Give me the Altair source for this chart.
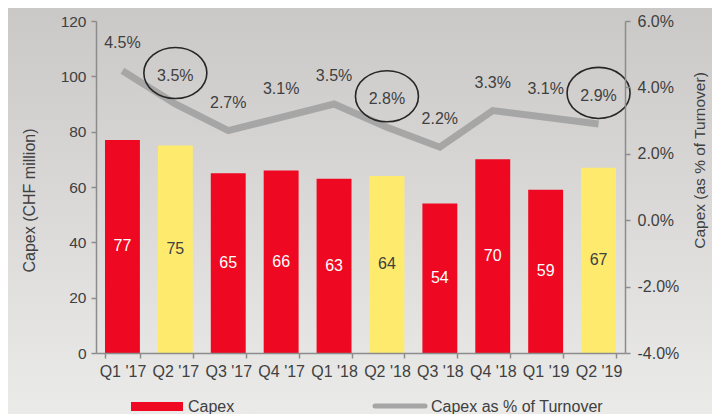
import altair as alt
import pandas as pd

quarters = ["Q1 '17", "Q2 '17", "Q3 '17", "Q4 '17", "Q1 '18",
            "Q2 '18", "Q3 '18", "Q4 '18", "Q1 '19", "Q2 '19"]
capex = [77, 75, 65, 66, 63, 64, 54, 70, 59, 67]
capex_pct = [4.5, 3.5, 2.7, 3.1, 3.5, 2.8, 2.2, 3.3, 3.1, 2.9]
legend_labels = ["Capex", "Capex as % of Turnover"]

RED = "#EE0821"
YELLOW = "#FEEB6E"
LINE_GRAY = "#A6A6A6"
AXIS_GRAY = "#8C8C8C"
TEXT = "#404040"
FONT = "Liberation Sans"

df = pd.DataFrame({"quarter": quarters, "capex": capex, "pct": capex_pct})
df["grp"] = ["q2" if q.startswith("Q2") else "other" for q in quarters]

W, H = 529, 332

x_enc = alt.X("quarter:N", sort=quarters, title=None,
              scale=alt.Scale(paddingInner=0.34, paddingOuter=0.17),
              axis=alt.Axis(labelAngle=0, tickBand="extent", domainColor=AXIS_GRAY,
                            tickColor=AXIS_GRAY, tickSize=5, labelFontSize=16,
                            labelColor=TEXT, labelPadding=5, labelFont=FONT,
                            domainWidth=1.5, tickWidth=1.5, zindex=1))

left_axis = alt.Axis(title="Capex (CHF million)", values=[0, 20, 40, 60, 80, 100, 120],
                     orient="left", grid=False, domainColor=AXIS_GRAY, tickColor=AXIS_GRAY,
                     tickSize=5, labelFontSize=15.5, labelColor=TEXT, labelPadding=5,
                     titleFontSize=16, titleColor=TEXT, titleFontWeight="normal",
                     titleAngle=270, titleAlign="center", titleBaseline="middle",
                     titleX=-67, titleY=179, domainWidth=1.5, tickWidth=1.5,
                     labelFont=FONT, titleFont=FONT, zindex=1)
left_scale = alt.Scale(domain=[0, 120], nice=False)

right_axis = alt.Axis(title="Capex (as % of Turnover)", values=[-4, -2, 0, 2, 4, 6],
                      orient="right", grid=False, domainColor=AXIS_GRAY, tickColor=AXIS_GRAY,
                      tickSize=5, labelFontSize=16, labelColor=TEXT, labelPadding=7,
                      labelExpr="(datum.value < 0 ? '-' : '') + format(abs(datum.value), '.1f') + '%'",
                      titleFontSize=15.5, titleColor=TEXT, titleFontWeight="normal",
                      titleAngle=270, titleAlign="center", titleBaseline="middle",
                      titleX=74, titleY=139, domainWidth=1.5, tickWidth=1.5,
                      labelFont=FONT, titleFont=FONT, zindex=1)
right_scale = alt.Scale(domain=[-4, 6], nice=False)

base = alt.Chart(df)

bg = alt.Chart(alt.Data(values=[{}])).mark_rect(
    color=alt.Gradient(gradient="linear", x1=0, x2=0, y1=0, y2=1,
                       stops=[alt.GradientStop(color="#CAC8C7", offset=0),
                              alt.GradientStop(color="#ECECEB", offset=1)])
).encode(x=alt.value(-100), x2=alt.value(W + 110), y=alt.value(-20), y2=alt.value(H + 80))

bars = base.mark_bar().encode(
    x=x_enc,
    y=alt.Y("capex:Q", scale=left_scale, axis=left_axis),
    color=alt.Color("grp:N", scale=alt.Scale(domain=["other", "q2"], range=[RED, YELLOW]),
                    legend=None),
)
bar_labels = base.transform_calculate(mid="datum.capex / 2").mark_text(
    fontSize=16, font=FONT
).encode(
    x=x_enc,
    y=alt.Y("mid:Q", scale=left_scale, axis=left_axis),
    text=alt.Text("capex:Q"),
    color=alt.condition("datum.grp == 'q2'", alt.value(TEXT), alt.value("white")),
)
left_layer = alt.layer(bars, bar_labels)

line = base.mark_line(color=LINE_GRAY, strokeWidth=7, strokeCap="butt").encode(
    x=x_enc, y=alt.Y("pct:Q", scale=right_scale, axis=right_axis))
line_labels = base.transform_calculate(
    lbl="format(datum.pct, '.1f') + '%'"
).mark_text(dy=-28, fontSize=16, color=TEXT, font=FONT).encode(
    x=x_enc, y=alt.Y("pct:Q", scale=right_scale, axis=right_axis), text="lbl:N")

k = 0.5523
ry = 0.81
ellipse_path = (f"M 1 0 C 1 {ry*k:.3f} {k:.3f} {ry} 0 {ry} "
                f"C {-k:.3f} {ry} -1 {ry*k:.3f} -1 0 "
                f"C -1 {-ry*k:.3f} {-k:.3f} {-ry} 0 {-ry} "
                f"C {k:.3f} {-ry} 1 {-ry*k:.3f} 1 0 Z")
ellipses = base.transform_filter("datum.grp == 'q2'").mark_point(
    shape=ellipse_path, size=63 * 63, filled=False, color="#262626",
    strokeWidth=1.6, yOffset=-31, opacity=1
).encode(x=x_enc, y=alt.Y("pct:Q", scale=right_scale, axis=right_axis))
right_layer = alt.layer(line, line_labels, ellipses)

one = alt.Data(values=[{}])
leg_rect = alt.Chart(one).mark_rect(color=RED).encode(
    x=alt.value(35), x2=alt.value(87), y=alt.value(381), y2=alt.value(390))
leg_text1 = alt.Chart(one).mark_text(
    text=legend_labels[0], align="left", baseline="middle", fontSize=16, color=TEXT, font=FONT
).encode(x=alt.value(92), y=alt.value(386))
leg_line = alt.Chart(one).mark_rule(color=LINE_GRAY, strokeWidth=5, strokeCap="round").encode(
    x=alt.value(279), x2=alt.value(329), y=alt.value(385))
leg_text2 = alt.Chart(one).mark_text(
    text=legend_labels[1], align="left", baseline="middle", fontSize=16, color=TEXT, font=FONT
).encode(x=alt.value(335), y=alt.value(386))

chart = alt.layer(
    bg, left_layer, right_layer, leg_rect, leg_text1, leg_line, leg_text2
).resolve_scale(y="independent").properties(
    width=W, height=H,
    autosize=alt.AutoSizeParams(type="none"),
    padding={"left": 88, "top": 13, "right": 87, "bottom": 61},
    background="#DCDBDA",
).configure_view(stroke=None).configure(font=FONT)

chart.save("out.html", embed_options={"renderer": "svg", "actions": False})
